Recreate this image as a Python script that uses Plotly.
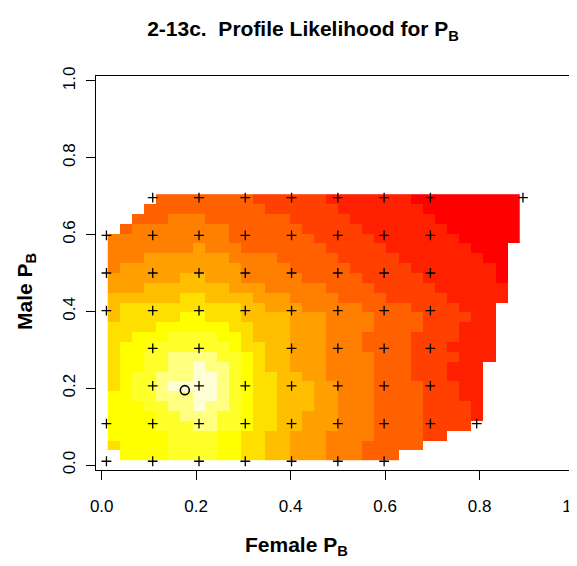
import plotly.graph_objects as go

# ---------------- data ----------------
title_text = "2-13c.  Profile Likelihood for P<sub>B</sub>"
x_title = "Female P<sub>B</sub>"
y_title = "Male P<sub>B</sub>"
tick_vals = [0.0, 0.2, 0.4, 0.6, 0.8, 1.0]
tick_text = ["0.0", "0.2", "0.4", "0.6", "0.8", "1.0"]

# heat.colors(12): level 0 (lowest likelihood) .. level 11 (highest)
heat_colors = ["#FF0000", "#FF2000", "#FF4000", "#FF6000", "#FF8000", "#FF9F00",
               "#FFBF00", "#FFDF00", "#FFFF00", "#FFFF2A", "#FFFF80", "#FFFFD5"]

# centres of the image cells (grid of 40 values on [0,1]; columns 1..34, rows 1..27)
cell_x = [0.0256, 0.0513, 0.0769, 0.1026, 0.1282, 0.1538, 0.1795, 0.2051, 0.2308, 0.2564,
          0.2821, 0.3077, 0.3333, 0.3590, 0.3846, 0.4103, 0.4359, 0.4615, 0.4872, 0.5128,
          0.5385, 0.5641, 0.5897, 0.6154, 0.6410, 0.6667, 0.6923, 0.7179, 0.7436, 0.7692,
          0.7949, 0.8205, 0.8462, 0.8718]
cell_y = [0.0256, 0.0513, 0.0769, 0.1026, 0.1282, 0.1538, 0.1795, 0.2051, 0.2308, 0.2564,
          0.2821, 0.3077, 0.3333, 0.3590, 0.3846, 0.4103, 0.4359, 0.4615, 0.4872, 0.5128,
          0.5385, 0.5641, 0.5897, 0.6154, 0.6410, 0.6667, 0.6923]

N = None
# colour level of each cell, run-length coded (level, count), top row first
level_rows_top_down = [
    [(N, 4), (3, 8), (2, 6), (1, 7), (0, 9)],
    [(N, 3), (3, 10), (2, 6), (1, 7), (0, 8)],
    [(N, 2), (3, 3), (4, 3), (3, 7), (2, 5), (1, 7), (0, 7)],
    [(N, 1), (3, 1), (4, 8), (3, 6), (2, 5), (1, 7), (0, 6)],
    [(4, 10), (3, 7), (2, 5), (1, 7), (0, 5)],
    [(4, 7), (5, 1), (4, 3), (3, 7), (2, 5), (1, 7), (0, 3), (N, 1)],
    [(4, 3), (5, 7), (4, 4), (3, 5), (2, 5), (1, 7), (0, 2), (N, 1)],
    [(4, 1), (5, 10), (4, 4), (3, 5), (2, 5), (1, 7), (0, 1), (N, 1)],
    [(5, 6), (6, 2), (5, 3), (4, 5), (3, 5), (2, 5), (1, 6), (0, 1), (N, 1)],
    [(5, 3), (6, 7), (5, 3), (4, 5), (3, 4), (2, 5), (1, 6), (N, 1)],
    [(6, 6), (7, 2), (6, 4), (5, 3), (4, 4), (3, 4), (2, 5), (1, 5), (N, 1)],
    [(6, 1), (7, 10), (6, 2), (5, 3), (4, 5), (3, 4), (2, 4), (1, 3), (N, 2)],
    [(6, 1), (7, 5), (8, 2), (7, 3), (6, 4), (5, 3), (4, 4), (3, 4), (2, 4), (1, 2), (N, 2)],
    [(7, 4), (8, 6), (7, 2), (6, 3), (5, 3), (4, 4), (3, 4), (2, 3), (1, 3), (N, 2)],
    [(7, 2), (8, 3), (9, 4), (8, 2), (7, 1), (6, 3), (5, 3), (4, 3), (3, 4), (2, 4), (1, 3), (N, 2)],
    [(7, 1), (8, 3), (9, 6), (8, 1), (7, 2), (6, 2), (5, 3), (4, 3), (3, 4), (2, 3), (1, 4), (N, 2)],
    [(7, 1), (8, 2), (9, 2), (10, 4), (9, 2), (8, 1), (7, 1), (6, 2), (5, 3), (4, 4), (3, 3), (2, 4), (1, 3), (N, 2)],
    [(7, 1), (8, 2), (9, 2), (10, 2), (11, 1), (10, 2), (9, 1), (8, 1), (7, 1), (6, 2), (5, 3), (4, 4), (3, 3), (2, 3), (1, 3), (N, 3)],
    [(7, 1), (8, 1), (9, 2), (10, 3), (11, 2), (10, 1), (9, 1), (8, 1), (7, 2), (6, 2), (5, 2), (4, 4), (3, 3), (2, 3), (1, 3), (N, 3)],
    [(7, 1), (8, 1), (9, 2), (10, 1), (11, 4), (10, 1), (9, 1), (8, 1), (7, 2), (6, 3), (5, 2), (4, 3), (3, 4), (2, 3), (1, 2), (N, 3)],
    [(8, 2), (9, 2), (10, 3), (11, 2), (10, 1), (9, 1), (8, 1), (7, 2), (6, 3), (5, 2), (4, 3), (3, 4), (2, 3), (1, 2), (N, 3)],
    [(8, 3), (9, 2), (10, 2), (11, 1), (10, 2), (9, 1), (8, 1), (7, 2), (6, 3), (5, 2), (4, 3), (3, 4), (2, 4), (1, 1), (N, 3)],
    [(8, 4), (9, 2), (10, 3), (9, 2), (8, 1), (7, 2), (6, 2), (5, 3), (4, 3), (3, 4), (2, 4), (1, 1), (N, 3)],
    [(8, 4), (9, 3), (10, 2), (9, 2), (8, 1), (7, 2), (6, 2), (5, 3), (4, 3), (3, 4), (2, 4), (N, 4)],
    [(8, 5), (9, 4), (8, 2), (7, 2), (6, 2), (5, 3), (4, 4), (3, 4), (2, 2), (N, 6)],
    [(7, 1), (8, 4), (9, 4), (8, 2), (7, 2), (6, 2), (5, 3), (4, 3), (3, 5), (N, 8)],
    [(N, 1), (8, 4), (9, 4), (8, 2), (7, 2), (6, 2), (5, 3), (4, 3), (3, 3), (N, 10)],
]

# sampled parameter combinations ("+") and the maximum ("o")
pts_x = [0.01, 0.108, 0.206, 0.304, 0.402, 0.50, 0.598,
         0.01, 0.108, 0.206, 0.304, 0.402, 0.50, 0.598, 0.696, 0.794,
         0.108, 0.206, 0.304, 0.402, 0.50, 0.598, 0.696,
         0.108, 0.206, 0.402, 0.50, 0.598, 0.696,
         0.01, 0.108, 0.206, 0.304, 0.402, 0.50, 0.598, 0.696,
         0.01, 0.108, 0.206, 0.304, 0.402, 0.50, 0.598, 0.696,
         0.01, 0.108, 0.206, 0.304, 0.402, 0.50, 0.598, 0.696,
         0.108, 0.206, 0.304, 0.402, 0.50, 0.598, 0.696, 0.892]
pts_y = [0.01] * 7 + [0.108] * 9 + [0.206] * 7 + [0.304] * 6 + \
        [0.402] * 8 + [0.50] * 8 + [0.598] * 8 + [0.696] * 8
mle_x = [0.176]
mle_y = [0.195]

# ---------------- build ----------------
z = []
for row in reversed(level_rows_top_down):
    vals = []
    for lev, cnt in row:
        vals.extend([lev] * cnt)
    assert len(vals) == len(cell_x)
    z.append(vals)

n = len(heat_colors)
colorscale = []
for i, c in enumerate(heat_colors):
    colorscale.append([i / n, c])
    colorscale.append([(i + 1) / n, c])

# the page body keeps an 8 px margin, so the figure is 8 px smaller than the window
OFF = 8
W, H = 577 - OFF, 566 - OFF
L, R, T, B = 88, 0, 68, 96
PW, PH = W - L - R, H - T - B


def px_x(p):  # window pixel -> paper fraction
    return (p - OFF - L) / PW


def px_y(p):
    return (H - B - (p - OFF)) / PH


FONT = "Liberation Sans, Arial, Helvetica, sans-serif"

fig = go.Figure()
fig.add_trace(go.Heatmap(x=cell_x, y=cell_y, z=z, colorscale=colorscale,
                         zmin=-0.5, zmax=n - 0.5, showscale=False, hoverinfo="skip"))
fig.add_trace(go.Scatter(x=pts_x, y=pts_y, mode="markers", hoverinfo="skip",
                         marker=dict(symbol="cross-thin", size=7, color="black",
                                     line=dict(width=1.3, color="black"))))
fig.add_trace(go.Scatter(x=mle_x, y=mle_y, mode="markers", hoverinfo="skip",
                         marker=dict(symbol="circle-open", size=9, color="black",
                                     line=dict(width=1.6, color="black"))))

fig.update_layout(
    width=W, height=H, margin=dict(l=L, r=R, t=T, b=B, pad=0, autoexpand=False),
    paper_bgcolor="white", plot_bgcolor="white", showlegend=False,
    font=dict(family=FONT, size=17, color="black"),
    title=dict(text=title_text, x=(303 - OFF) / W, xanchor="center",
               y=1 - (29 - OFF) / H, yanchor="middle",
               font=dict(family=FONT, size=21, color="black", weight="bold")),
    annotations=[
        dict(text="<b>" + x_title + "</b>", xref="paper", yref="paper",
             x=px_x(296), y=px_y(546), xanchor="center", yanchor="middle", showarrow=False,
             font=dict(family=FONT, size=21, color="black")),
        dict(text="<b>" + y_title + "</b>", xref="paper", yref="paper",
             x=px_x(26), y=px_y(292), xanchor="center", yanchor="middle", showarrow=False,
             textangle=-90, font=dict(family=FONT, size=21, color="black")),
    ],
)
fig.update_xaxes(range=[-0.0121, 1.0064], tickvals=tick_vals, ticktext=tick_text,
                 ticks="outside", ticklen=9, tickwidth=1, tickcolor="black",
                 showline=True, linecolor="black", linewidth=1, mirror=True,
                 showgrid=False, zeroline=False, ticklabelstandoff=12,
                 ticklabeloverflow="allow", automargin=False)
fig.update_yaxes(range=[-0.0128, 1.0128], tickvals=tick_vals, ticktext=tick_text,
                 ticks="outside", ticklen=9, tickwidth=1, tickcolor="black", tickangle=-90,
                 showline=True, linecolor="black", linewidth=1,
                 showgrid=False, zeroline=False, ticklabelstandoff=4,
                 ticklabeloverflow="allow", automargin=False)

fig.write_html("out.html")
